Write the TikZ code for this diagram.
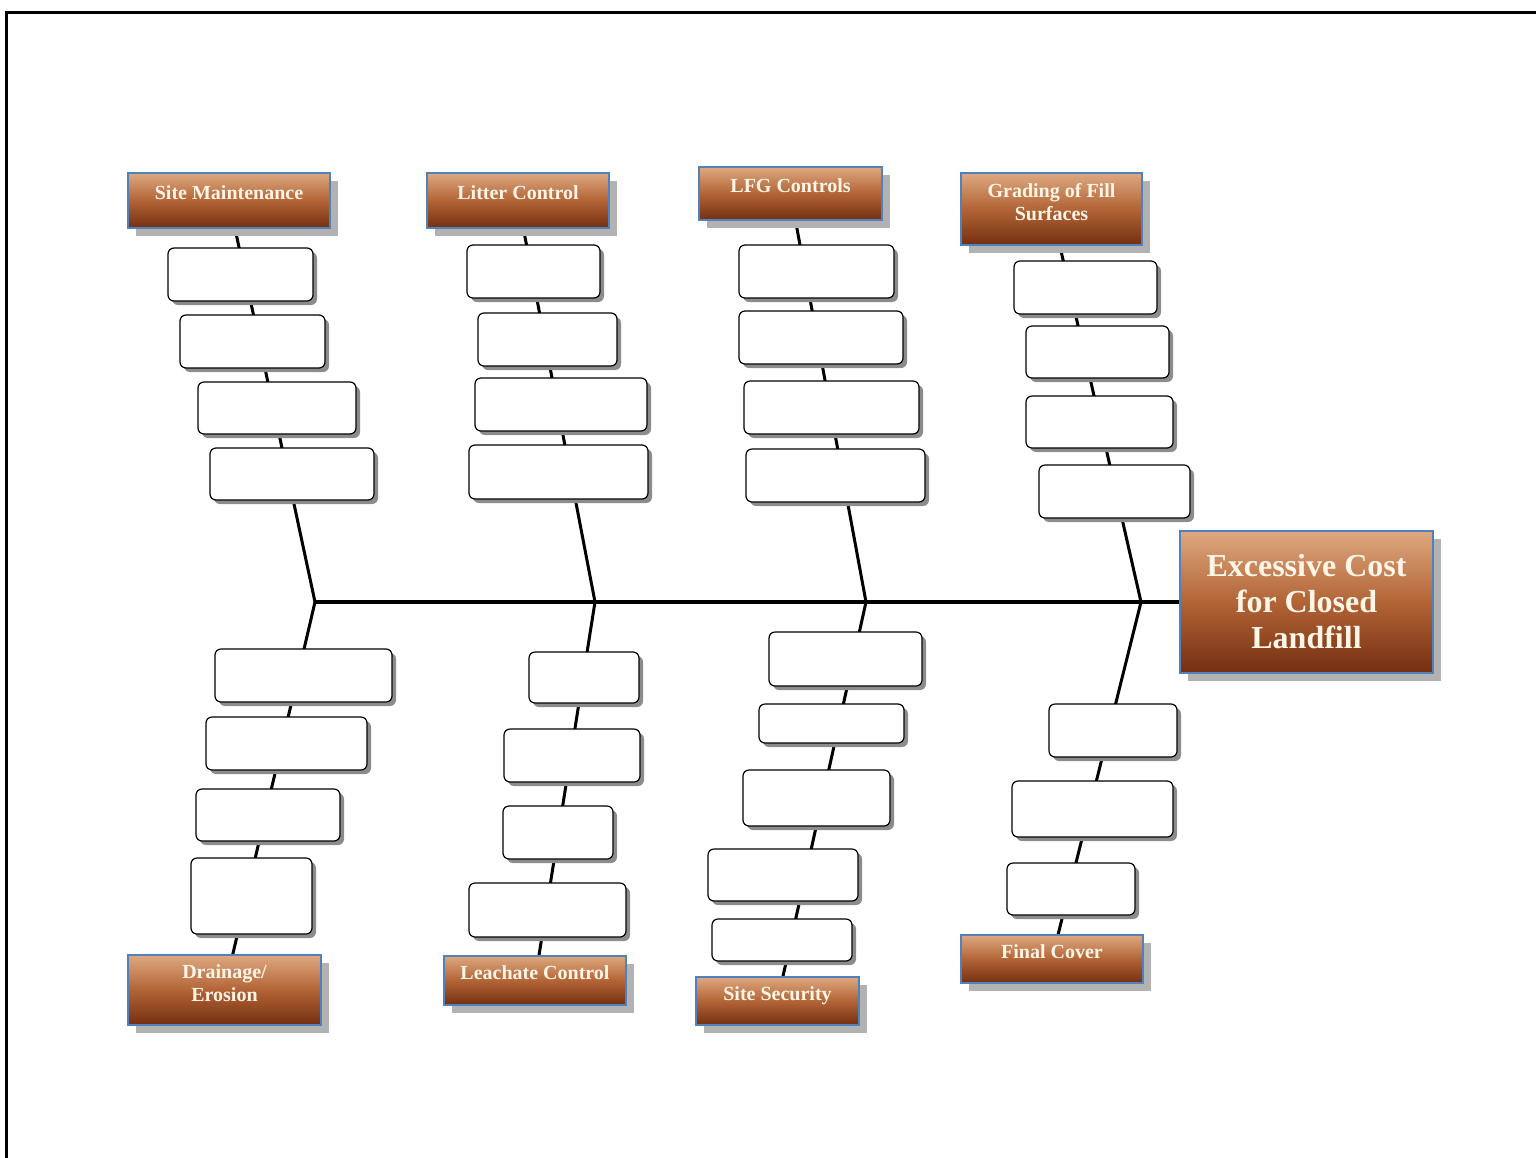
\documentclass[tikz,border=0pt]{standalone}
\usepackage{fontspec}
\setmainfont{Liberation Serif}
\usetikzlibrary{shadows,backgrounds}

\definecolor{capTop}{RGB}{222,168,128}
\definecolor{capMid}{RGB}{178,100,54}
\definecolor{capBot}{RGB}{116,46,16}
\definecolor{capEdge}{RGB}{79,129,189}
\definecolor{capText}{RGB}{255,246,232}

\begin{document}
\begin{tikzpicture}[x=1pt, y=-1pt,
			cause/.style = {shape=rectangle, draw=capEdge, line width=1.5pt,
				top color=capTop, bottom color=capBot, middle color=capMid,
				drop shadow={shadow xshift=8pt, shadow yshift=-8pt, fill=black!30, opacity=1},
				text=capText, align=center, inner sep=0pt, text height=14pt, text depth=16pt,
				font=\bfseries\fontsize{20}{23}\selectfont},
			cause2/.style = {cause, text height=37pt, text depth=14pt},
			effect/.style = {cause, text height=, text depth=, font=\bfseries\fontsize{32}{36}\selectfont},
			cell/.style = {shape=rectangle, rounded corners=6pt, draw, line width=1.2pt,
				fill=white, inner sep=0pt,
				drop shadow={shadow xshift=4pt, shadow yshift=-4pt, fill=black!45, opacity=1}},
			bone/.style = {draw, line width=3pt},
			spine/.style = {draw, line width=4pt}
			]
			\useasboundingbox (0,0) rectangle (1536,1157);
			\draw[line width=3pt] (6.5,1170) -- (6.5,12.5) -- (1550,12.5); % page frame
			
			% Effect (head of the fish)
			\node[effect, minimum width=253pt, minimum height=142pt] (ec) at (1306.5,602) {Excessive Cost\\for Closed\\Landfill};
			
			% Junctions on the spine
			\coordinate (j1) at (315,602);
			\coordinate (j2) at (595,602);
			\coordinate (j3) at (866,602);
			\coordinate (j4) at (1141,602);
			
			% Upper causes
			\node[cause, minimum width=202pt, minimum height=55pt] (sm) at (229,200.5) {Site Maintenance};
			\node[cell, minimum width=145pt, minimum height=53pt] (sm1) at (240.5,274.5) {};
			\node[cell, minimum width=145pt, minimum height=53pt] (sm2) at (252.5,341.5) {};
			\node[cell, minimum width=158pt, minimum height=52pt] (sm3) at (277,408) {};
			\node[cell, minimum width=164pt, minimum height=52pt] (sm4) at (292,474) {};
			
			\node[cause, minimum width=182pt, minimum height=55pt] (lc) at (518,200.5) {Litter Control};
			\node[cell, minimum width=133pt, minimum height=53pt] (lc1) at (533.5,271.5) {};
			\node[cell, minimum width=139pt, minimum height=53pt] (lc2) at (547.5,339.5) {};
			\node[cell, minimum width=172pt, minimum height=53pt] (lc3) at (561,404.5) {};
			\node[cell, minimum width=179pt, minimum height=54pt] (lc4) at (558.5,472) {};
			
			\node[cause, minimum width=183pt, minimum height=53pt] (lfg) at (790.5,193.5) {LFG Controls};
			\node[cell, minimum width=155pt, minimum height=53pt] (lfg1) at (816.5,271.5) {};
			\node[cell, minimum width=164pt, minimum height=53pt] (lfg2) at (821,337.5) {};
			\node[cell, minimum width=175pt, minimum height=53pt] (lfg3) at (831.5,407.5) {};
			\node[cell, minimum width=179pt, minimum height=53pt] (lfg4) at (835.5,475.5) {};
			
			\node[cause2, minimum width=181pt, minimum height=72pt] (gf) at (1051.5,209) {Grading of Fill\\Surfaces};
			\node[cell, minimum width=143pt, minimum height=53pt] (gf1) at (1085.5,287.5) {};
			\node[cell, minimum width=143pt, minimum height=52pt] (gf2) at (1097.5,352) {};
			\node[cell, minimum width=147pt, minimum height=52pt] (gf3) at (1099.5,422) {};
			\node[cell, minimum width=151pt, minimum height=53pt] (gf4) at (1114.5,491.5) {};
			
			% Lower causes
			\node[cause2, minimum width=193pt, minimum height=70pt] (de) at (224.5,990) {Drainage/\\Erosion};
			\node[cell, minimum width=177pt, minimum height=53pt] (de1) at (303.5,675.5) {};
			\node[cell, minimum width=161pt, minimum height=53pt] (de2) at (286.5,743.5) {};
			\node[cell, minimum width=144pt, minimum height=52pt] (de3) at (268,815) {};
			\node[cell, minimum width=121pt, minimum height=76pt] (de4) at (251.5,896) {};
			
			\node[cause, minimum width=182pt, minimum height=49pt] (lch) at (535,980.5) {Leachate Control};
			\node[cell, minimum width=110pt, minimum height=51pt] (lch1) at (584,677.5) {};
			\node[cell, minimum width=136pt, minimum height=53pt] (lch2) at (572,755.5) {};
			\node[cell, minimum width=110pt, minimum height=53pt] (lch3) at (558,832.5) {};
			\node[cell, minimum width=157pt, minimum height=54pt] (lch4) at (547.5,910) {};
			
			\node[cause, minimum width=163pt, minimum height=48pt] (ss) at (777.5,1001) {Site Security};
			\node[cell, minimum width=153pt, minimum height=54pt] (ss1) at (845.5,659) {};
			\node[cell, minimum width=145pt, minimum height=39pt] (ss2) at (831.5,723.5) {};
			\node[cell, minimum width=147pt, minimum height=56pt] (ss3) at (816.5,798) {};
			\node[cell, minimum width=150pt, minimum height=52pt] (ss4) at (783,875) {};
			\node[cell, minimum width=140pt, minimum height=42pt] (ss5) at (782,940) {};
			
			\node[cause, minimum width=182pt, minimum height=48pt] (fc) at (1052,959) {Final Cover};
			\node[cell, minimum width=128pt, minimum height=53pt] (fc1) at (1113,730.5) {};
			\node[cell, minimum width=161pt, minimum height=56pt] (fc2) at (1092.5,809) {};
			\node[cell, minimum width=128pt, minimum height=52pt] (fc3) at (1071,889) {};
			
			% Spine and bones, behind the boxes
			\begin{scope}[on background layer]
				\draw[spine] (j1) -- (ec.west);
				\draw[bone] (j1) -- (sm);
				\draw[bone] (j2) -- (lc);
				\draw[bone] (j3) -- (lfg);
				\draw[bone] (j4) -- (gf);
				\draw[bone] (j1) -- (de);
				\draw[bone] (j2) -- (lch);
				\draw[bone] (j3) -- (ss);
				\draw[bone] (j4) -- (fc);
			\end{scope}
			
		\end{tikzpicture}
\end{document}
